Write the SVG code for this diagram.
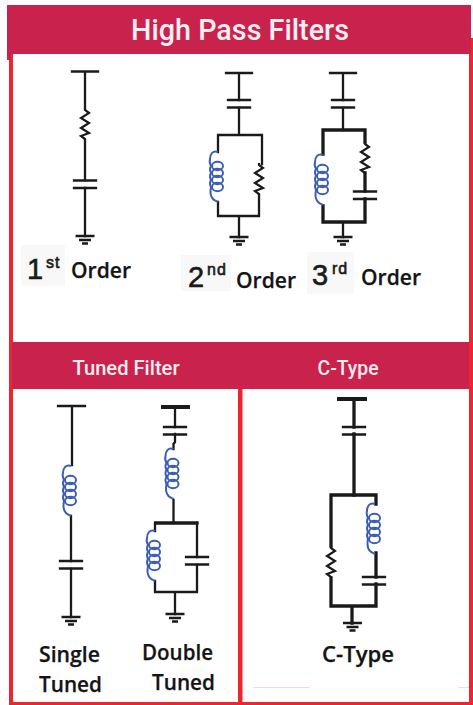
<svg xmlns="http://www.w3.org/2000/svg" width="473" height="705" viewBox="0 0 473 705">
<style>
.w{fill:none;stroke:#1a1a1a;stroke-width:2.300;stroke-linecap:square}
.t3{stroke-width:3.300}.t4{stroke-width:4}
.coil{fill:none;stroke:#3c5db4;stroke-width:2}
.res{fill:none;stroke:#1a1a1a;stroke-width:2.200;stroke-linejoin:miter}
.band{fill:#c9224c}.frame{fill:#ee2530}
.h{font-family:Roboto,"Liberation Sans",sans-serif;font-weight:500;fill:#fbeef1;text-anchor:middle}
.l{font-family:"Open Sans","Liberation Sans",sans-serif;font-weight:600;font-size:22px;fill:#141414;stroke:#141414;stroke-width:.25}
.n{font-family:"Liberation Sans",Arial,sans-serif;fill:#1a1a1a;stroke:#1a1a1a;stroke-width:.6}
.bg{fill:#f7f8f7}
</style>
<defs>
<g id="cap"><path class="w" d="M-11,0H11M-11,7.500H11" stroke-linecap="butt"/></g>
<g id="gnd"><path d="M-9.500,0H9.500M-6,4H6M-3,7.500H3" fill="none" stroke="#1a1a1a" stroke-width="2.400"/></g>
<g id="res"><path class="res" d="M0,0L0,2L4,5L-4,10L4,15L-4,20L4,25L-4,28L0,31L0,32"/></g>
<g id="ind"><path class="coil" d="M0,0C-5,-2-8,2-8,7C-9,10-8,12-7,14C-9,17-8,19-7,21C-9,24-8,26-7,28C-9,31-8,33-7,35C-8,40-8,44-5,47C-3,49-1,49 0,50"/><ellipse class="coil" cx="-.500" cy="14" rx="5.500" ry="4.200"/><ellipse class="coil" cx="-.500" cy="21" rx="5.500" ry="4.200"/><ellipse class="coil" cx="-.500" cy="28" rx="5.500" ry="4.200"/><ellipse class="coil" cx="-.500" cy="35" rx="5.500" ry="4.200"/></g>
</defs>

<g id="panels">
<rect width="473" height="705" fill="#fff"/>
<rect class="frame" x="9" y="54" width="4" height="651"/>
<rect class="frame" x="469" y="38" width="4" height="667"/>
<rect class="frame" x="9" y="702" width="464" height="3"/>
<rect class="frame" x="238" y="389" width="4.500" height="313"/>
<rect class="band" x="7" y="5" width="464" height="49"/>
<rect class="band" x="7" y="50" width="4" height="10"/>
<rect class="band" x="12" y="342" width="457" height="47"/>
<path d="M253,687.500H310M458,687.500H469" stroke="#f8d8dc" stroke-width="1"/>
</g>

<g id="titles">
<text class="h" x="240" y="40" font-size="30" textLength="218" lengthAdjust="spacingAndGlyphs">High Pass Filters</text>
<text class="h" x="126" y="375" font-size="20" textLength="107" lengthAdjust="spacingAndGlyphs">Tuned Filter</text>
<text class="h" x="348" y="375" font-size="20" textLength="61" lengthAdjust="spacingAndGlyphs">C-Type</text>
</g>

<g id="connectors">
<path class="w" d="M72,71.500H98M85,71.500V108M85,140V180M85,188V236"/>
<path class="w" d="M226,73H252M239,73V100M239,108V134"/>
<path class="w" d="M218,152V135H262V164M259,195V216H218V202M239,216V237"/>
<path class="w" d="M330,73H356M343,73V100M343,108V130M343,223V237"/>
<path class="w t3" d="M323,154V130H365V142M365,173V191M365,199V222H323V206"/>
<path class="w" d="M58,406H85M72,406V465M71,516V561M71,569V617"/>
<path class="w t4" d="M163,407H188" stroke-linecap="butt"/>
<path class="w" d="M175,407V427M175,434V442L173.500,444V449M173.500,500V523M197,523V557M197,565V592H155V581M155,531V523M175,592V614"/>
<path class="w t3" d="M156,523H197"/>
<path class="w t4" d="M339,399H365" stroke-linecap="butt"/>
<path class="w t3" d="M354,399V427M354,434V495"/>
<path class="w t3" d="M331,546V495H376V504M331,578V606H376V584M376,553V577M352,606V623"/>
</g>

<g id="first-order">
<use href="#res" x="85" y="108"/><use href="#cap" x="85" y="180.500"/><use href="#gnd" x="85" y="236"/>
<rect class="bg" x="21" y="245" width="44" height="41"/>
<text class="n" x="27" y="279" font-size="29">1</text>
<text class="n" x="46" y="268" font-size="16" letter-spacing="1">st</text>
<text class="l" x="71" y="278" textLength="60" lengthAdjust="spacingAndGlyphs">Order</text>
</g>
<g id="second-order">
<use href="#cap" x="239" y="100"/><use href="#ind" x="218" y="152"/><use href="#res" x="259" y="163"/><use href="#gnd" x="239" y="237"/>
<rect class="bg" x="181" y="255" width="50" height="36"/>
<text class="n" x="188" y="287" font-size="29">2</text>
<text class="n" x="207" y="275" font-size="16" letter-spacing="1">nd</text>
<text class="l" x="236" y="288" textLength="60" lengthAdjust="spacingAndGlyphs">Order</text>
</g>
<g id="third-order">
<use href="#cap" x="343" y="100"/><use href="#ind" x="323" y="155"/><use href="#res" x="365" y="142"/><use href="#cap" x="365" y="191.500"/><use href="#gnd" x="343" y="237"/>
<rect class="bg" x="307" y="252" width="47" height="42"/>
<text class="n" x="312" y="285" font-size="29">3</text>
<text class="n" x="332" y="274" font-size="16" letter-spacing="1">rd</text>
<text class="l" x="361" y="285" textLength="60" lengthAdjust="spacingAndGlyphs">Order</text>
</g>
<g id="single-tuned">
<use href="#ind" x="71" y="466"/><use href="#cap" x="71" y="561"/><use href="#gnd" x="71" y="617"/>
<text class="l" x="39" y="662" textLength="61" lengthAdjust="spacingAndGlyphs">Single</text>
<text class="l" x="39" y="692" textLength="63" lengthAdjust="spacingAndGlyphs">Tuned</text>
</g>
<g id="double-tuned">
<use href="#cap" x="175" y="427"/><use href="#ind" x="173.500" y="449"/><use href="#ind" x="155" y="531"/><use href="#cap" x="197" y="557"/><use href="#gnd" x="175" y="614"/>
<text class="l" x="142" y="660" textLength="71" lengthAdjust="spacingAndGlyphs">Double</text>
<text class="l" x="152" y="690" textLength="63" lengthAdjust="spacingAndGlyphs">Tuned</text>
</g>
<g id="c-type">
<use href="#cap" x="354" y="427"/><use href="#res" x="331" y="546"/><use href="#ind" x="375" y="504"/><use href="#cap" x="374" y="577"/><use href="#gnd" x="352.500" y="623"/>
<text class="l" x="322" y="662" textLength="72" lengthAdjust="spacingAndGlyphs">C-Type</text>
</g>
</svg>
